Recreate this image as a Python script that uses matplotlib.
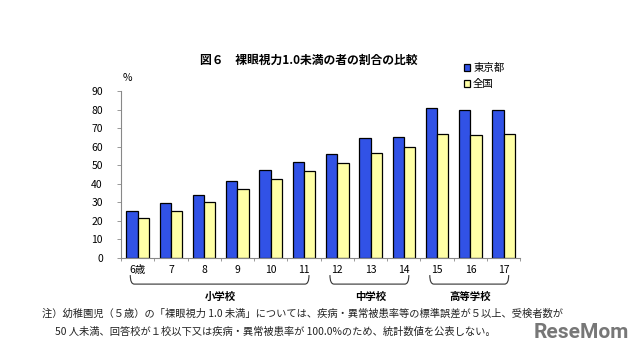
import numpy as np
import matplotlib.pyplot as plt
from matplotlib.path import Path
import matplotlib.patches as patches
import matplotlib.transforms as mtransforms

plt.rcParams['font.family'] = ['Noto Sans CJK JP', 'DejaVu Sans']

# 年齢
ages = ['6歳', '7', '8', '9', '10', '11', '12', '13', '14', '15', '16', '17']
# 裸眼視力1.0未満の者の割合 (%)
tokyo = [25.2, 29.3, 34.0, 41.4, 47.2, 51.8, 56.0, 64.8, 65.0, 80.6, 79.7, 79.9]
zenkoku = [21.4, 25.2, 30.2, 37.0, 42.3, 46.8, 51.3, 56.7, 59.6, 66.9, 66.4, 66.9]
# 学校区分 (開始, 終了の年齢インデックス)
schools = ['小学校', '中学校', '高等学校']
school_range = [(0, 5), (6, 8), (9, 11)]

blue = '#3152E6'
yellow = '#FFFFA6'

fig = plt.figure(figsize=(6.4, 3.6), dpi=100)
ax = fig.add_axes([0.189, 0.284, 0.624, 0.463])

x = np.arange(len(ages))
w = 0.34
ax.bar(x - w / 2, tokyo, w, color=blue, edgecolor='black', linewidth=0.9, label='東京都')
ax.bar(x + w / 2, zenkoku, w, color=yellow, edgecolor='black', linewidth=0.9, label='全国')

ax.set_xlim(-0.5, len(ages) - 0.5)
ax.set_ylim(0, 90)
ax.set_yticks(range(0, 91, 10))
ax.set_xticks(x)
ax.set_xticklabels(ages)
ax.set_xticks(np.arange(-0.5, len(ages)), minor=True)
ax.tick_params(axis='x', which='major', length=0, labelsize=7.5, pad=5)
ax.tick_params(axis='x', which='minor', length=2, width=0.6, color='#888888')
ax.tick_params(axis='y', length=3, width=0.6, color='#888888', labelsize=7.5, pad=10)
for s in ['top', 'right']:
    ax.spines[s].set_visible(False)
for s in ['left', 'bottom']:
    ax.spines[s].set_color('#888888')
    ax.spines[s].set_linewidth(0.8)

ax.text(0.005, 1.078, '%', transform=ax.transAxes, fontsize=7.5, va='center')

# 学校区分の括弧
trans = mtransforms.blended_transform_factory(ax.transData, ax.transAxes)
ytop, ybot = -0.104, -0.158
for name, (a, b) in zip(schools, school_range):
    x0, x1 = a - 0.22, b + 0.15
    r = 0.12
    verts = [(x0, ytop), (x0, ybot), (x0 + r, ybot), (x1 - r, ybot), (x1, ybot), (x1, ytop)]
    codes = [Path.MOVETO, Path.CURVE3, Path.CURVE3, Path.LINETO, Path.CURVE3, Path.CURVE3]
    ax.add_patch(patches.PathPatch(Path(verts, codes), transform=trans, fill=False,
                                   lw=0.8, color='#333333', clip_on=False))
    ax.text((a + b) / 2, -0.236, name, transform=trans, ha='center', va='center',
            fontsize=7.5, fontweight='bold')

fig.text(0.483, 0.833, '図６　裸眼視力1.0未満の者の割合の比較', ha='center', va='center',
         fontsize=8.5, fontweight='bold')

leg = ax.legend(loc='upper left', bbox_to_anchor=(0.71, 0.85), bbox_transform=fig.transFigure,
                frameon=False, fontsize=7.5, handlelength=0.6, handleheight=0.6,
                handletextpad=0.3, labelspacing=0.55)

fig.text(0.066, 0.128, '注）幼稚園児（５歳）の「裸眼視力 1.0 未満」については、疾病・異常被患率等の標準誤差が５以上、受検者数が',
         fontsize=7.4, va='center', color='#222222')
fig.text(0.086, 0.078, '50 人未満、回答校が１校以下又は疾病・異常被患率が 100.0%のため、統計数値を公表しない。',
         fontsize=7.4, va='center', color='#222222')

fig.text(0.908, 0.075, 'ReseMom', ha='center', va='center', fontsize=15, fontweight='bold',
         color='#777777', family=['Roboto', 'DejaVu Sans'])

fig.savefig('out.png', dpi=100)
